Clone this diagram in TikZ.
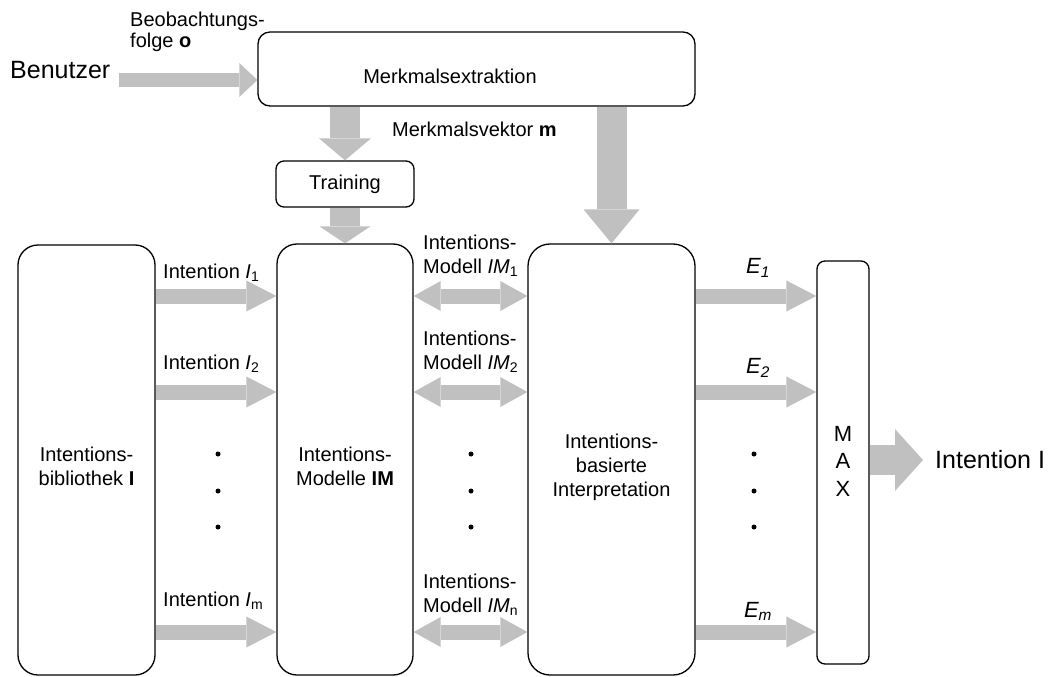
\documentclass[tikz,border=0pt]{standalone}
\usepackage{fontspec}
\setmainfont{Liberation Sans}
\usetikzlibrary{arrows.meta}
\definecolor{arrowgray}{RGB}{192,192,192}
\begin{document}
\begin{tikzpicture}[x=1pt,y=-1pt,
  every node/.style={inner sep=0pt,font=\fontsize{20}{24}\selectfont},
  bigfont/.style={font=\fontsize{25}{30}\selectfont},
  elabel/.style={font=\fontsize{22}{26}\selectfont},
  box/.style={draw,line width=1.3pt,inner sep=0pt},
  dotmark/.style={circle,fill,inner sep=0pt,minimum size=5pt},
  hfat/.style={draw=arrowgray,line width=15pt,
    -{Triangle[width=31pt,length=30pt,line width=0pt]}},
  hdouble/.style={draw=arrowgray,line width=15pt,
    {Triangle[width=30pt,length=27pt,line width=0pt]}-{Triangle[width=30pt,length=27pt,line width=0pt]}},
  vfat/.style={draw=arrowgray,line width=30pt}
]
\useasboundingbox (0,0) rectangle (1050,677);

% ---- boxes ----
\node[box,rounded corners=12pt,minimum width=437pt,minimum height=74pt] (merk) at (476.5,69) {};
\node[box,rounded corners=8pt,minimum width=138pt,minimum height=46pt] (train) at (345,184) {Training};
\node[box,rounded corners=20pt,minimum width=137pt,minimum height=430pt] (bib) at (86.5,460) {};
\node[box,rounded corners=20pt,minimum width=136pt,minimum height=431pt] (mod) at (345,459.5) {};
\node[box,rounded corners=22pt,minimum width=167pt,minimum height=431pt] (interp) at (611.5,459.5) {};
\node[box,rounded corners=8pt,minimum width=52pt,minimum height=403pt] (max) at (843,462.5) {};

% ---- texts inside boxes ----
\node (merktxt) at (450,76) {Merkmalsextraktion};
\node[align=center] (bibtxt) at (86.5,466) {Intentions-\\bibliothek \textbf{I}};
\node[align=center] (modtxt) at (345,466) {Intentions-\\Modelle \textbf{IM}};
\node[align=center] (interptxt) at (611.5,467) {Intentions-\\basierte\\Interpretation};
\node[align=center,font=\fontsize{22}{27.5}\selectfont] (maxtxt) at (843,461) {M\\A\\X};

% ---- outer texts ----
\node[anchor=west,bigfont] (user) at (10,70) {Benutzer};
\node[anchor=west,bigfont] (result) at (935,460) {Intention I};
\node[anchor=north west,align=left,font=\fontsize{20}{21}\selectfont] (obs) at (130,12) {Beobachtungs-\\folge \textbf{o}};
\node[anchor=west] (vec) at (392,129) {Merkmalsvektor \textbf{m}};

% ---- row levels ----
\coordinate (r1) at (0,296);
\coordinate (r2) at (0,392);
\coordinate (rm) at (0,632);
\coordinate (uin) at (119,80);
\coordinate (outend) at (923,460);

% ---- row labels ----
\node[anchor=west] (li1) at (163,273) {Intention \textit{I}\textsubscript{1}};
\node[anchor=west] (li2) at (163,364) {Intention \textit{I}\textsubscript{2}};
\node[anchor=west] (lim) at (163,601) {Intention \textit{I}\textsubscript{m}};
\node[anchor=west,align=left] (lm1) at (423,256) {Intentions-\\Modell \textit{IM}\textsubscript{1}};
\node[anchor=west,align=left] (lm2) at (423,352) {Intentions-\\Modell \textit{IM}\textsubscript{2}};
\node[anchor=west,align=left] (lmn) at (423,595) {Intentions-\\Modell \textit{IM}\textsubscript{n}};
\node[elabel] (le1) at (758,268) {\textit{E\textsubscript{1}}};
\node[elabel] (le2) at (758,368) {\textit{E\textsubscript{2}}};
\node[elabel] (lem) at (758,611) {\textit{E\textsubscript{m}}};

% ---- ellipsis dots ----
\foreach \c/\x in {a/218,b/471,c/754}{
  \node[dotmark] (\c1) at (\x,454) {};
  \node[dotmark] (\c2) at (\x,491) {};
  \node[dotmark] (\c3) at (\x,527) {};
}

% ---- connectors ----
\draw[draw=arrowgray,line width=14pt,-{Triangle[width=34pt,length=18pt,line width=0pt]}]
  (uin) -- (uin -| merk.west);
\draw[vfat,-{Triangle[width=52pt,length=22pt,line width=0pt]}]
  (train.north |- merk.south) -- (train.north);
\draw[vfat,-{Triangle[width=51pt,length=17pt,line width=0pt]}]
  (train.south) -- (mod.north);
\draw[vfat,-{Triangle[width=56pt,length=34pt,line width=0pt]}]
  (interp.north |- merk.south) -- (interp.north);

\foreach \r in {r1,r2,rm}{
  \draw[hfat] (bib.east |- \r) -- (mod.west |- \r);
  \draw[hdouble] (mod.east |- \r) -- (interp.west |- \r);
  \draw[hfat] (interp.east |- \r) -- (max.west |- \r);
}
\draw[draw=arrowgray,line width=30pt,-{Triangle[width=62pt,length=28pt,line width=0pt]}]
  (max.east |- outend) -- (outend);
\end{tikzpicture}
\end{document}
